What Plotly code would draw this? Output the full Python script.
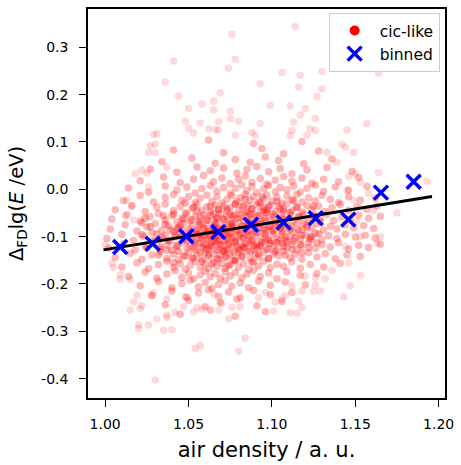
import plotly.graph_objects as go

# ---- data ----
binned_x = [1.009, 1.0285, 1.0487, 1.0678, 1.0874, 1.107, 1.1262, 1.1458, 1.1654, 1.185]
binned_y = [-0.122, -0.115, -0.099, -0.090, -0.075, -0.070, -0.061, -0.064, -0.007, 0.016]

fit_x = [0.999, 1.196]
fit_y = [-0.128, -0.015]

x_ticks = [1.00, 1.05, 1.10, 1.15, 1.20]
x_tick_labels = ["1.00", "1.05", "1.10", "1.15", "1.20"]
y_ticks = [-0.4, -0.3, -0.2, -0.1, 0.0, 0.1, 0.2, 0.3]
y_tick_labels = ["-0.4", "-0.3", "-0.2", "-0.1", "0.0", "0.1", "0.2", "0.3"]

# sparse / isolated cic-like events
cic_outer = [
    (1.076, 0.327), (1.041, 0.271), (1.078, 0.275), (1.074, 0.256), (1.036, 0.227), (1.093, 0.223),
    (1.044, 0.197), (1.069, 0.204), (1.065, 0.186), (1.058, 0.180), (1.050, 0.171), (1.065, 0.168),
    (1.075, 0.165), (1.048, 0.144), (1.057, 0.140), (1.075, 0.149), (1.080, 0.144), (1.093, 0.139),
    (1.068, 0.143), (1.050, 0.129), (1.053, 0.119), (1.062, 0.128), (1.066, 0.126), (1.068, 0.126),
    (1.029, 0.116), (1.031, 0.118), (1.078, 0.114), (1.088, 0.120), (1.090, 0.114),
    (1.114, 0.344), (1.106, 0.247), (1.117, 0.241), (1.130, 0.249), (1.164, 0.245), (1.116, 0.216),
    (1.130, 0.212), (1.127, 0.196), (1.099, 0.177), (1.111, 0.176), (1.120, 0.171), (1.117, 0.157),
    (1.126, 0.150), (1.113, 0.142), (1.157, 0.139), (1.145, 0.125), (1.112, 0.124), (1.123, 0.128),
    (1.126, 0.124), (1.121, 0.115), (1.111, 0.113),
    (1.164, 0.035), (1.193, 0.017), (1.175, -0.050), (1.165, -0.100), (1.163, -0.115), (1.161, -0.045),
    (1.158, -0.009), (1.153, 0.015), (1.145, -0.002), (1.144, 0.089), (1.149, 0.078), (1.150, 0.033),
    (1.146, 0.027), (1.149, -0.023), (1.151, -0.068), (1.153, -0.100), (1.146, -0.156), (1.144, -0.121),
    (1.142, 0.095), (1.133, 0.078), (1.139, 0.057),
    (1.153, -0.182), (1.147, -0.204), (1.143, -0.227), (1.136, -0.171), (1.132, -0.189), (1.129, -0.215),
    (1.125, -0.216), (1.126, -0.202), (1.126, -0.186), (1.118, -0.250), (1.115, -0.262), (1.111, -0.261),
    (1.116, -0.236), (1.118, -0.215), (1.112, -0.204), (1.108, -0.224), (1.106, -0.232), (1.102, -0.238),
    (1.101, -0.257), (1.120, -0.183),
    (1.030, -0.403), (1.054, -0.336), (1.057, -0.330), (1.080, -0.342), (1.084, -0.315), (1.074, -0.274),
    (1.068, -0.255), (1.081, -0.248), (1.076, -0.249), (1.035, -0.298), (1.040, -0.297), (1.020, -0.294),
    (1.020, -0.287), (1.026, -0.287), (1.031, -0.274), (1.037, -0.271), (1.037, -0.266), (1.042, -0.260),
    (1.015, -0.255), (1.022, -0.246), (1.021, -0.252), (1.019, -0.224), (1.017, -0.238), (1.029, -0.218),
    (1.028, -0.225), (1.037, -0.232), (1.047, -0.248), (1.048, -0.227), (1.053, -0.259), (1.055, -0.250),
    (1.058, -0.253), (1.065, -0.222), (1.070, -0.241), (1.092, -0.229), (1.096, -0.218), (1.009, -0.190),
    (1.009, -0.180), (1.015, -0.190), (1.005, -0.166),
    (1.000, -0.117), (1.004, -0.156), (1.013, -0.023), (1.012, -0.057), (1.018, 0.033), (1.022, 0.041),
    (1.025, 0.034), (1.026, 0.005), (1.026, 0.078), (1.030, 0.078), (1.027, 0.092), (1.030, 0.095),
    (1.037, 0.047), (1.016, -0.037), (1.017, -0.065),
]

# main body of the cic-like cloud
cic_body = [
    (1.062, 0.104), (1.089, 0.097), (1.118, 0.101),
    (1.041, 0.083), (1.071, 0.077), (1.094, 0.086), (1.107, 0.075), (1.128, 0.081),
    (1.034, 0.058), (1.052, 0.066), (1.066, 0.055), (1.078, 0.063), (1.087, 0.057), (1.096, 0.068),
    (1.104, 0.061), (1.119, 0.054), (1.136, 0.064),
    (1.027, 0.043), (1.043, 0.036), (1.055, 0.047), (1.063, 0.039), (1.071, 0.045), (1.079, 0.034),
    (1.085, 0.042), (1.091, 0.048), (1.098, 0.037), (1.105, 0.044), (1.112, 0.033), (1.121, 0.041),
    (1.133, 0.046), (1.148, 0.038),
    (1.021, 0.018), (1.035, 0.026), (1.045, 0.014), (1.053, 0.022), (1.059, 0.029), (1.065, 0.016),
    (1.070, 0.024), (1.075, 0.012), (1.080, 0.021), (1.084, 0.028), (1.088, 0.015), (1.093, 0.023),
    (1.097, 0.011), (1.102, 0.019), (1.107, 0.027), (1.112, 0.017), (1.118, 0.024), (1.124, 0.013),
    (1.131, 0.021), (1.140, 0.016), (1.152, 0.025),
    (1.014, 0.003), (1.026, -0.006), (1.036, 0.007), (1.043, -0.002), (1.049, 0.005), (1.054, -0.008),
    (1.058, 0.001), (1.063, 0.008), (1.067, -0.004), (1.071, 0.004), (1.075, -0.009), (1.078, 0.002),
    (1.082, 0.009), (1.085, -0.003), (1.088, 0.006), (1.091, -0.007), (1.095, 0.001), (1.098, 0.008),
    (1.102, -0.005), (1.105, 0.004), (1.109, -0.001), (1.113, 0.007), (1.117, -0.006), (1.121, 0.002),
    (1.126, 0.009), (1.131, -0.004), (1.138, 0.005), (1.146, -0.002), (1.157, 0.006),
    (1.011, -0.024), (1.021, -0.013), (1.029, -0.027), (1.036, -0.017), (1.041, -0.011), (1.046, -0.023),
    (1.050, -0.015), (1.054, -0.028), (1.057, -0.019), (1.061, -0.012), (1.064, -0.025), (1.067, -0.016),
    (1.070, -0.029), (1.073, -0.021), (1.076, -0.013), (1.079, -0.026), (1.081, -0.018), (1.084, -0.011),
    (1.087, -0.023), (1.089, -0.015), (1.092, -0.028), (1.095, -0.020), (1.097, -0.012), (1.100, -0.025),
    (1.103, -0.017), (1.106, -0.029), (1.109, -0.014), (1.112, -0.022), (1.115, -0.011), (1.118, -0.027),
    (1.122, -0.018), (1.126, -0.024), (1.130, -0.013), (1.135, -0.021), (1.140, -0.028), (1.146, -0.016),
    (1.153, -0.023), (1.162, -0.019),
    (1.006, -0.043), (1.016, -0.034), (1.024, -0.047), (1.031, -0.038), (1.036, -0.031), (1.041, -0.045),
    (1.045, -0.036), (1.048, -0.049), (1.052, -0.041), (1.055, -0.032), (1.058, -0.044), (1.061, -0.037),
    (1.063, -0.048), (1.066, -0.033), (1.068, -0.042), (1.071, -0.035), (1.073, -0.046), (1.075, -0.039),
    (1.078, -0.031), (1.080, -0.044), (1.082, -0.037), (1.084, -0.049), (1.086, -0.034), (1.088, -0.042),
    (1.091, -0.032), (1.093, -0.046), (1.095, -0.038), (1.097, -0.043), (1.099, -0.033), (1.102, -0.047),
    (1.104, -0.036), (1.107, -0.041), (1.109, -0.031), (1.112, -0.045), (1.115, -0.038), (1.118, -0.048),
    (1.121, -0.034), (1.124, -0.043), (1.128, -0.036), (1.132, -0.047), (1.136, -0.039), (1.141, -0.032),
    (1.146, -0.045), (1.151, -0.037), (1.157, -0.042), (1.163, -0.035),
    (1.004, -0.063), (1.013, -0.054), (1.021, -0.067), (1.027, -0.058), (1.032, -0.051), (1.036, -0.065),
    (1.040, -0.056), (1.043, -0.069), (1.046, -0.061), (1.049, -0.052), (1.052, -0.064), (1.054, -0.057),
    (1.057, -0.068), (1.059, -0.053), (1.061, -0.062), (1.063, -0.055), (1.065, -0.066), (1.067, -0.059),
    (1.069, -0.051), (1.071, -0.064), (1.073, -0.057), (1.075, -0.069), (1.077, -0.054), (1.079, -0.062),
    (1.081, -0.052), (1.083, -0.066), (1.085, -0.058), (1.087, -0.063), (1.089, -0.053), (1.091, -0.067),
    (1.093, -0.056), (1.095, -0.061), (1.097, -0.051), (1.099, -0.065), (1.101, -0.058), (1.104, -0.068),
    (1.106, -0.054), (1.108, -0.063), (1.111, -0.056), (1.113, -0.067), (1.116, -0.059), (1.119, -0.052),
    (1.122, -0.065), (1.125, -0.057), (1.129, -0.062), (1.133, -0.053), (1.137, -0.066), (1.142, -0.058),
    (1.147, -0.064), (1.152, -0.055), (1.158, -0.061), (1.165, -0.057),
    (1.003, -0.084), (1.012, -0.075), (1.019, -0.088), (1.025, -0.079), (1.030, -0.072), (1.034, -0.086),
    (1.038, -0.077), (1.041, -0.089), (1.044, -0.081), (1.047, -0.073), (1.050, -0.085), (1.052, -0.078),
    (1.055, -0.088), (1.057, -0.074), (1.059, -0.083), (1.061, -0.076), (1.063, -0.087), (1.065, -0.079),
    (1.067, -0.071), (1.069, -0.084), (1.071, -0.077), (1.073, -0.089), (1.074, -0.074), (1.076, -0.082),
    (1.078, -0.072), (1.080, -0.086), (1.082, -0.078), (1.084, -0.083), (1.086, -0.073), (1.088, -0.087),
    (1.090, -0.076), (1.092, -0.081), (1.094, -0.071), (1.096, -0.085), (1.098, -0.078), (1.100, -0.088),
    (1.102, -0.074), (1.105, -0.083), (1.107, -0.076), (1.110, -0.087), (1.112, -0.079), (1.115, -0.072),
    (1.118, -0.085), (1.121, -0.077), (1.124, -0.082), (1.127, -0.073), (1.131, -0.086), (1.135, -0.078),
    (1.139, -0.084), (1.144, -0.075), (1.149, -0.081), (1.155, -0.077), (1.161, -0.083), (1.022, -0.071),
    (1.062, -0.089),
    (1.001, -0.104), (1.010, -0.095), (1.017, -0.108), (1.023, -0.099), (1.028, -0.092), (1.032, -0.106),
    (1.036, -0.097), (1.039, -0.109), (1.042, -0.101), (1.045, -0.093), (1.048, -0.105), (1.050, -0.098),
    (1.053, -0.108), (1.055, -0.094), (1.057, -0.103), (1.059, -0.096), (1.061, -0.107), (1.063, -0.099),
    (1.065, -0.091), (1.067, -0.104), (1.069, -0.097), (1.071, -0.109), (1.072, -0.094), (1.074, -0.102),
    (1.076, -0.092), (1.078, -0.106), (1.080, -0.098), (1.082, -0.103), (1.084, -0.093), (1.086, -0.107),
    (1.088, -0.096), (1.090, -0.101), (1.092, -0.091), (1.094, -0.105), (1.096, -0.098), (1.099, -0.108),
    (1.101, -0.094), (1.103, -0.103), (1.106, -0.096), (1.108, -0.107), (1.111, -0.099), (1.114, -0.092),
    (1.117, -0.105), (1.120, -0.097), (1.123, -0.102), (1.126, -0.093), (1.130, -0.106), (1.134, -0.098),
    (1.139, -0.104), (1.144, -0.095), (1.150, -0.101), (1.156, -0.097), (1.162, -0.103), (1.066, -0.109),
    (1.002, -0.124), (1.011, -0.115), (1.018, -0.128), (1.024, -0.119), (1.029, -0.112), (1.033, -0.126),
    (1.037, -0.117), (1.040, -0.129), (1.043, -0.121), (1.046, -0.113), (1.049, -0.125), (1.051, -0.118),
    (1.054, -0.128), (1.056, -0.114), (1.058, -0.123), (1.060, -0.116), (1.062, -0.127), (1.064, -0.119),
    (1.066, -0.111), (1.068, -0.124), (1.070, -0.117), (1.072, -0.129), (1.074, -0.114), (1.076, -0.122),
    (1.078, -0.112), (1.080, -0.126), (1.082, -0.118), (1.084, -0.123), (1.087, -0.113), (1.089, -0.127),
    (1.091, -0.116), (1.093, -0.121), (1.096, -0.111), (1.098, -0.125), (1.101, -0.118), (1.103, -0.128),
    (1.106, -0.114), (1.109, -0.123), (1.112, -0.116), (1.115, -0.127), (1.118, -0.119), (1.122, -0.112),
    (1.126, -0.125), (1.130, -0.117), (1.135, -0.122), (1.140, -0.113), (1.146, -0.126), (1.152, -0.118),
    (1.158, -0.123), (1.165, -0.116),
    (1.006, -0.144), (1.015, -0.135), (1.022, -0.148), (1.028, -0.139), (1.033, -0.132), (1.037, -0.146),
    (1.041, -0.137), (1.044, -0.149), (1.047, -0.141), (1.050, -0.133), (1.053, -0.145), (1.055, -0.138),
    (1.058, -0.148), (1.060, -0.134), (1.062, -0.143), (1.065, -0.136), (1.067, -0.147), (1.069, -0.139),
    (1.071, -0.131), (1.073, -0.144), (1.075, -0.137), (1.078, -0.149), (1.080, -0.134), (1.082, -0.142),
    (1.085, -0.132), (1.087, -0.146), (1.090, -0.138), (1.092, -0.143), (1.095, -0.133), (1.098, -0.147),
    (1.101, -0.136), (1.104, -0.141), (1.107, -0.131), (1.111, -0.145), (1.114, -0.138), (1.118, -0.148),
    (1.122, -0.134), (1.127, -0.143), (1.132, -0.136), (1.138, -0.147), (1.145, -0.139), (1.153, -0.142),
    (1.010, -0.164), (1.019, -0.155), (1.026, -0.168), (1.032, -0.159), (1.037, -0.152), (1.041, -0.166),
    (1.045, -0.157), (1.048, -0.169), (1.051, -0.161), (1.054, -0.153), (1.057, -0.165), (1.060, -0.158),
    (1.062, -0.168), (1.065, -0.154), (1.067, -0.163), (1.070, -0.156), (1.072, -0.167), (1.075, -0.159),
    (1.077, -0.151), (1.080, -0.164), (1.083, -0.157), (1.086, -0.169), (1.089, -0.154), (1.092, -0.162),
    (1.095, -0.152), (1.099, -0.166), (1.103, -0.158), (1.107, -0.163), (1.112, -0.153), (1.117, -0.167),
    (1.123, -0.159), (1.131, -0.164), (1.141, -0.156),
    (1.014, -0.184), (1.024, -0.175), (1.031, -0.188), (1.037, -0.179), (1.042, -0.172), (1.046, -0.186),
    (1.050, -0.177), (1.053, -0.189), (1.057, -0.181), (1.060, -0.173), (1.063, -0.185), (1.066, -0.178),
    (1.069, -0.188), (1.072, -0.174), (1.075, -0.183), (1.078, -0.176), (1.082, -0.187), (1.085, -0.179),
    (1.089, -0.171), (1.093, -0.184), (1.098, -0.177), (1.103, -0.189), (1.109, -0.174), (1.117, -0.182),
    (1.127, -0.178),
    (1.021, -0.204), (1.032, -0.195), (1.040, -0.208), (1.046, -0.199), (1.051, -0.192), (1.056, -0.206),
    (1.060, -0.197), (1.064, -0.209), (1.068, -0.201), (1.072, -0.193), (1.076, -0.205), (1.081, -0.198),
    (1.086, -0.208), (1.092, -0.194), (1.099, -0.203), (1.108, -0.196), (1.120, -0.202),
    (1.028, -0.224), (1.040, -0.215), (1.049, -0.228), (1.056, -0.219), (1.062, -0.212), (1.068, -0.226),
    (1.074, -0.217), (1.081, -0.229), (1.089, -0.214), (1.099, -0.223), (1.112, -0.218),
    (1.036, -0.244), (1.050, -0.235), (1.060, -0.248), (1.069, -0.239), (1.079, -0.232), (1.091, -0.246),
    (1.106, -0.237),
    (1.045, -0.264), (1.063, -0.255), (1.078, -0.268), (1.096, -0.259),
]

# densest part of the cloud
cic_core = [
    (1.041, -0.052), (1.043, -0.118), (1.046, -0.087), (1.048, -0.141), (1.042, -0.097), (1.047, -0.063),
    (1.049, -0.109), (1.044, -0.131), (1.045, -0.076), (1.048, -0.029), (1.041, -0.155), (1.046, -0.101),
    (1.043, -0.083),
    (1.051, -0.091), (1.053, -0.123), (1.056, -0.071), (1.058, -0.104), (1.052, -0.146), (1.055, -0.046),
    (1.057, -0.133), (1.059, -0.082), (1.054, -0.113), (1.051, -0.067), (1.058, -0.152), (1.056, -0.097),
    (1.053, -0.038), (1.059, -0.119), (1.052, -0.101), (1.057, -0.058), (1.055, -0.086),
    (1.061, -0.093), (1.063, -0.121), (1.066, -0.074), (1.068, -0.108), (1.062, -0.139), (1.065, -0.051),
    (1.067, -0.129), (1.069, -0.086), (1.064, -0.114), (1.061, -0.066), (1.068, -0.148), (1.066, -0.099),
    (1.063, -0.036), (1.069, -0.117), (1.062, -0.104), (1.067, -0.061), (1.065, -0.089), (1.064, -0.158),
    (1.068, -0.043), (1.061, -0.126), (1.066, -0.081),
    (1.071, -0.096), (1.073, -0.127), (1.076, -0.072), (1.078, -0.111), (1.072, -0.143), (1.075, -0.054),
    (1.077, -0.134), (1.079, -0.088), (1.074, -0.117), (1.071, -0.063), (1.078, -0.151), (1.076, -0.102),
    (1.073, -0.041), (1.079, -0.121), (1.072, -0.084), (1.077, -0.057), (1.075, -0.093), (1.074, -0.161),
    (1.078, -0.031), (1.071, -0.131), (1.076, -0.079), (1.073, -0.106),
    (1.081, -0.094), (1.083, -0.122), (1.086, -0.069), (1.088, -0.109), (1.082, -0.142), (1.085, -0.048),
    (1.087, -0.131), (1.089, -0.083), (1.084, -0.116), (1.081, -0.061), (1.088, -0.153), (1.086, -0.098),
    (1.083, -0.034), (1.089, -0.119), (1.082, -0.077), (1.087, -0.053), (1.085, -0.088), (1.084, -0.021),
    (1.088, -0.041), (1.081, -0.128), (1.086, -0.073), (1.083, -0.103),
    (1.091, -0.091), (1.093, -0.119), (1.096, -0.066), (1.098, -0.106), (1.092, -0.137), (1.095, -0.044),
    (1.097, -0.127), (1.099, -0.079), (1.094, -0.112), (1.091, -0.057), (1.098, -0.146), (1.096, -0.094),
    (1.093, -0.029), (1.099, -0.114), (1.092, -0.074), (1.097, -0.049), (1.095, -0.084), (1.094, -0.016),
    (1.098, -0.037), (1.091, -0.123),
    (1.101, -0.087), (1.103, -0.113), (1.106, -0.062), (1.108, -0.101), (1.102, -0.131), (1.105, -0.041),
    (1.107, -0.121), (1.109, -0.075), (1.104, -0.108), (1.101, -0.053), (1.108, -0.139), (1.106, -0.089),
    (1.103, -0.026), (1.109, -0.111), (1.102, -0.071), (1.107, -0.046), (1.105, -0.081),
    (1.111, -0.084), (1.113, -0.109), (1.116, -0.058), (1.118, -0.097), (1.112, -0.127), (1.115, -0.038),
    (1.117, -0.117), (1.119, -0.071), (1.114, -0.103), (1.111, -0.049), (1.118, -0.134), (1.116, -0.086),
    (1.113, -0.024),
    (1.121, -0.081), (1.123, -0.106), (1.126, -0.056), (1.128, -0.094), (1.122, -0.123), (1.125, -0.036),
    (1.127, -0.113), (1.129, -0.068), (1.124, -0.099),
    (1.031, -0.094), (1.033, -0.121), (1.036, -0.074), (1.038, -0.108), (1.032, -0.139), (1.035, -0.056),
    (1.037, -0.129), (1.039, -0.086), (1.034, -0.101),
    (1.022, -0.096), (1.025, -0.124), (1.027, -0.079), (1.029, -0.108), (1.024, -0.061),
]

RED = "rgb(255,0,0)"
BLUE = "rgb(0,0,255)"
FONT = "DejaVu Sans"

fig = go.Figure()

fig.add_trace(go.Scatter(
    x=[p[0] for p in cic_outer], y=[p[1] for p in cic_outer], mode="markers",
    marker=dict(color=RED, size=7.5, opacity=0.15, line=dict(width=0)),
    showlegend=False, hoverinfo="skip"))
fig.add_trace(go.Scatter(
    x=[p[0] for p in cic_body], y=[p[1] for p in cic_body], mode="markers",
    marker=dict(color=RED, size=7.5, opacity=0.28, line=dict(width=0)),
    showlegend=False, hoverinfo="skip"))
fig.add_trace(go.Scatter(
    x=[p[0] for p in cic_core], y=[p[1] for p in cic_core], mode="markers",
    marker=dict(color=RED, size=7.5, opacity=0.33, line=dict(width=0)),
    showlegend=False, hoverinfo="skip"))
# legend entry for the cic-like points (solid marker as in the reference legend)
fig.add_trace(go.Scatter(
    x=[None], y=[None], mode="markers", name="cic-like",
    marker=dict(color=RED, size=10)))
fig.add_trace(go.Scatter(
    x=fit_x, y=fit_y, mode="lines", line=dict(color="black", width=3),
    showlegend=False, hoverinfo="skip"))
fig.add_trace(go.Scatter(
    x=binned_x, y=binned_y, mode="markers", name="binned",
    marker=dict(symbol="x-thin", size=14, color=BLUE, line=dict(color=BLUE, width=3.5))))

axis_common = dict(
    showgrid=False, zeroline=False, showline=True, linecolor="black", linewidth=1.5,
    mirror=True, ticks="outside", ticklen=7, tickwidth=1.3, tickcolor="black",
    tickfont=dict(family=FONT, size=14, color="black"), ticklabeloverflow="allow",
)

fig.update_layout(
    width=461, height=465,
    margin=dict(l=88, r=9, t=7, b=65),
    paper_bgcolor="white", plot_bgcolor="white",
    font=dict(family=FONT, color="black"),
    xaxis=dict(range=[0.9897, 1.2038], tickvals=x_ticks, ticktext=x_tick_labels,
               ticklabelstandoff=5,
               title=dict(text="air density / a. u.", font=dict(family=FONT, size=21), standoff=12),
               **axis_common),
    yaxis=dict(range=[-0.441, 0.381], tickvals=y_ticks, ticktext=y_tick_labels,
               ticklabelstandoff=8,
               title=dict(text="Δ<sub>FD</sub>lg(<i>E</i> /eV)", font=dict(family=FONT, size=19.5), standoff=12),
               **axis_common),
    legend=dict(x=0.985, y=0.99, xanchor="right", yanchor="top",
                bgcolor="rgba(255,255,255,0.8)", bordercolor="#cccccc", borderwidth=1,
                font=dict(family=FONT, size=15.5, color="black"), itemwidth=40,
                tracegroupgap=2),
)

fig.write_html("out.html")
